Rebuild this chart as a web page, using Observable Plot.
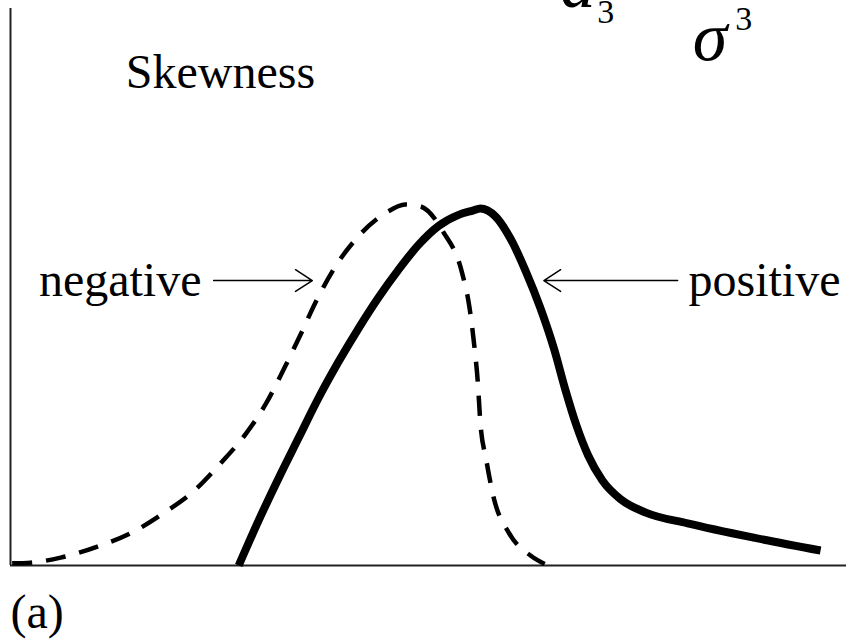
<!DOCTYPE html>
<html>
<head>
<meta charset="utf-8">
<script src="https://cdn.jsdelivr.net/npm/d3@7"></script>
<script src="https://cdn.jsdelivr.net/npm/@observablehq/plot@0.6"></script>
<style>
  html, body { margin: 0; padding: 0; background: #fff; }
  #chart svg { display: block; }
</style>
</head>
<body>
<div id="chart"></div>
<script>
// Negative-skew curve (dashed), x in arbitrary units 0..10, y density (peak ~1)
const negX = [0.02, 0.24, 0.60, 1.04, 1.45, 1.84, 2.20, 2.52, 2.81, 3.05, 3.28, 3.47, 3.66, 3.88, 4.15, 4.50, 4.72, 4.90, 5.18, 5.40, 5.49, 5.55, 5.59, 5.62, 5.69, 5.78, 5.96, 6.22, 6.40];
const negY = [0.006, 0.008, 0.022, 0.053, 0.092, 0.148, 0.210, 0.288, 0.367, 0.451, 0.555, 0.647, 0.742, 0.835, 0.919, 0.989, 1.011, 1.006, 0.933, 0.821, 0.723, 0.611, 0.513, 0.401, 0.297, 0.190, 0.092, 0.028, 0.003];

// Positive-skew curve (solid)
const posX = [2.73, 2.97, 3.21, 3.45, 3.68, 3.92, 4.16, 4.40, 4.64, 4.88, 5.12, 5.36, 5.53, 5.62, 5.80, 5.98, 6.16, 6.34, 6.50, 6.64, 6.77, 6.91, 7.08, 7.30, 7.60, 8.10, 8.89, 9.69];
const posY = [0.000, 0.127, 0.246, 0.359, 0.467, 0.569, 0.663, 0.750, 0.828, 0.898, 0.951, 0.982, 0.994, 1.000, 0.978, 0.916, 0.826, 0.720, 0.608, 0.490, 0.392, 0.308, 0.238, 0.185, 0.148, 0.118, 0.078, 0.042];

// Labels
const labelText = ["Skewness", "negative", "positive", "(a)"];
const labelX = [1.38, 0.34, 8.11, 0.0];
const labelY = [1.336, 0.756, 0.756, -0.174];

// Arrows (from label toward curve)
const arrowX1 = [2.43, 7.98];
const arrowX2 = [3.61, 6.38];
const arrowY = [0.798, 0.798];

// Clipped equation fragments at the top
const eqText = ["a", "3", "σ", "3"];
const eqX = [6.58, 7.02, 8.16, 8.67];
const eqY = [1.563, 1.518, 1.415, 1.499];
const eqItalic = [true, false, true, false];

const neg = negX.map((x, i) => ({x, y: negY[i]}));
const pos = posX.map((x, i) => ({x, y: posY[i]}));
const labels = labelText.map((t, i) => ({t, x: labelX[i], y: labelY[i]}));
const arrows = arrowX1.map((x1, i) => ({x1, x2: arrowX2[i], y: arrowY[i]}));
const eq = eqText.map((t, i) => ({t, x: eqX[i], y: eqY[i], it: eqItalic[i]}));

const serif = "Liberation Serif";

const chart = Plot.plot({
  width: 846,
  height: 639,
  marginLeft: 10,
  marginRight: 0,
  marginTop: 8,
  marginBottom: 74,
  x: {domain: [0, 10], axis: null},
  y: {domain: [0, 1.56], axis: null},
  style: {background: "#fff", overflow: "hidden"},
  marks: [
    Plot.ruleX([0], {y1: 0, y2: 1.56, stroke: "#222", strokeWidth: 2}),
    Plot.ruleY([0], {x1: 0, x2: 10, stroke: "#222", strokeWidth: 2}),
    Plot.line(neg, {x: "x", y: "y", curve: "monotone-x", stroke: "#000", strokeWidth: 4.5, strokeDasharray: "20,14", strokeLinecap: "butt"}),
    Plot.line(pos, {x: "x", y: "y", curve: "monotone-x", stroke: "#000", strokeWidth: 8, strokeLinecap: "butt"}),
    Plot.arrow(arrows, {x1: "x1", x2: "x2", y1: "y", y2: "y", stroke: "#000", strokeWidth: 1.5, headLength: 20, headAngle: 66}),
    Plot.text(labels, {x: "x", y: "y", text: "t", textAnchor: "start", lineAnchor: "bottom", fontSize: 48, fontFamily: serif, fill: "#000"}),
    Plot.text(eq.filter(d => d.it), {x: "x", y: "y", text: "t", textAnchor: "start", lineAnchor: "bottom", fontSize: 70, fontStyle: "italic", fontFamily: serif, fill: "#000"}),
    Plot.text(eq.filter(d => !d.it), {x: "x", y: "y", text: "t", textAnchor: "start", lineAnchor: "bottom", fontSize: 34, fontFamily: serif, fill: "#000"})
  ]
});
document.getElementById("chart").appendChild(chart);
</script>
</body>
</html>
